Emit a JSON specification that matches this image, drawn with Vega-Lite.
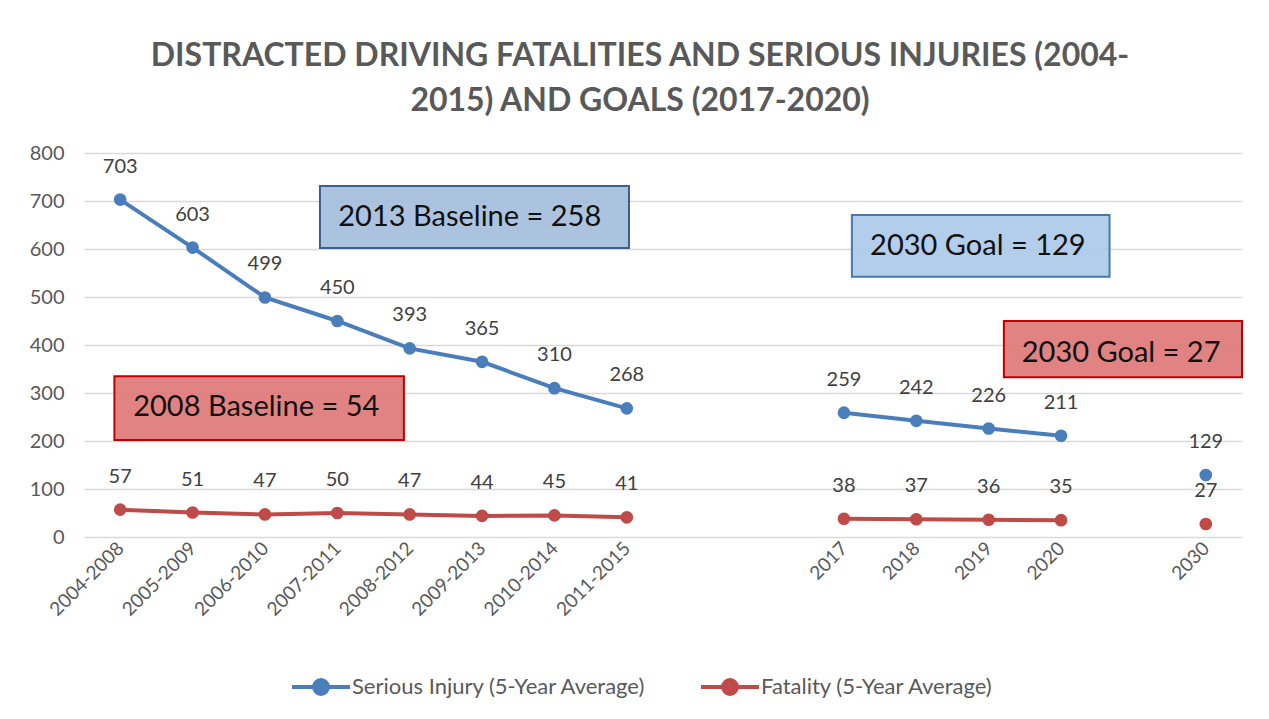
{
  "$schema": "https://vega.github.io/schema/vega-lite/v6.json",
  "autosize": {"type": "none"},
  "width": 1158,
  "height": 384,
  "padding": {"left": 84, "top": 153, "right": 27, "bottom": 182},
  "background": "white",
  "config": {
    "font": "Lato",
    "view": {"stroke": null}
  },
  "title": {
    "text": ["DISTRACTED DRIVING FATALITIES AND SERIOUS INJURIES (2004-", "2015) AND GOALS (2017-2020)"],
    "font": "Lato",
    "fontSize": 32,
    "fontWeight": "bold",
    "color": "#595959",
    "lineHeight": 45,
    "anchor": "middle",
    "dx": -23,
    "offset": 25
  },
  "datasets": {
    "boxes": [
      {"box": "2013 Baseline = 258", "x1": 2.76, "x2": 7.03, "y1": 602, "y2": 731, "tx": 4.83, "ty": 666},
      {"box": "2008 Baseline = 54", "x1": -0.08, "x2": 3.92, "y1": 202, "y2": 335, "tx": 1.88, "ty": 270},
      {"box": "2030 Goal = 129", "x1": 10.11, "x2": 13.67, "y1": 542, "y2": 671, "tx": 11.85, "ty": 606},
      {"box": "2030 Goal = 27", "x1": 12.21, "x2": 15.5, "y1": 333, "y2": 450, "tx": 13.83, "ty": 383}
    ]
  },
  "data": {
    "values": [
      {"series": "Serious Injury (5-Year Average)", "idx": 0, "cat": "2004-2008", "value": 703, "seg": "a"},
      {"series": "Serious Injury (5-Year Average)", "idx": 1, "cat": "2005-2009", "value": 603, "seg": "a"},
      {"series": "Serious Injury (5-Year Average)", "idx": 2, "cat": "2006-2010", "value": 499, "seg": "a"},
      {"series": "Serious Injury (5-Year Average)", "idx": 3, "cat": "2007-2011", "value": 450, "seg": "a"},
      {"series": "Serious Injury (5-Year Average)", "idx": 4, "cat": "2008-2012", "value": 393, "seg": "a"},
      {"series": "Serious Injury (5-Year Average)", "idx": 5, "cat": "2009-2013", "value": 365, "seg": "a"},
      {"series": "Serious Injury (5-Year Average)", "idx": 6, "cat": "2010-2014", "value": 310, "seg": "a"},
      {"series": "Serious Injury (5-Year Average)", "idx": 7, "cat": "2011-2015", "value": 268, "seg": "a"},
      {"series": "Serious Injury (5-Year Average)", "idx": 10, "cat": "2017", "value": 259, "seg": "b"},
      {"series": "Serious Injury (5-Year Average)", "idx": 11, "cat": "2018", "value": 242, "seg": "b"},
      {"series": "Serious Injury (5-Year Average)", "idx": 12, "cat": "2019", "value": 226, "seg": "b"},
      {"series": "Serious Injury (5-Year Average)", "idx": 13, "cat": "2020", "value": 211, "seg": "b"},
      {"series": "Serious Injury (5-Year Average)", "idx": 15, "cat": "2030", "value": 129, "seg": "c"},
      {"series": "Fatality (5-Year Average)", "idx": 0, "cat": "2004-2008", "value": 57, "seg": "a"},
      {"series": "Fatality (5-Year Average)", "idx": 1, "cat": "2005-2009", "value": 51, "seg": "a"},
      {"series": "Fatality (5-Year Average)", "idx": 2, "cat": "2006-2010", "value": 47, "seg": "a"},
      {"series": "Fatality (5-Year Average)", "idx": 3, "cat": "2007-2011", "value": 50, "seg": "a"},
      {"series": "Fatality (5-Year Average)", "idx": 4, "cat": "2008-2012", "value": 47, "seg": "a"},
      {"series": "Fatality (5-Year Average)", "idx": 5, "cat": "2009-2013", "value": 44, "seg": "a"},
      {"series": "Fatality (5-Year Average)", "idx": 6, "cat": "2010-2014", "value": 45, "seg": "a"},
      {"series": "Fatality (5-Year Average)", "idx": 7, "cat": "2011-2015", "value": 41, "seg": "a"},
      {"series": "Fatality (5-Year Average)", "idx": 10, "cat": "2017", "value": 38, "seg": "b"},
      {"series": "Fatality (5-Year Average)", "idx": 11, "cat": "2018", "value": 37, "seg": "b"},
      {"series": "Fatality (5-Year Average)", "idx": 12, "cat": "2019", "value": 36, "seg": "b"},
      {"series": "Fatality (5-Year Average)", "idx": 13, "cat": "2020", "value": 35, "seg": "b"},
      {"series": "Fatality (5-Year Average)", "idx": 15, "cat": "2030", "value": 27, "seg": "c"}
    ]
  },
  "encoding": {
    "x": {
      "field": "idx",
      "type": "quantitative",
      "scale": {"domain": [-0.5, 15.5], "nice": false, "zero": false},
      "axis": {
        "title": null,
        "values": [0, 1, 2, 3, 4, 5, 6, 7, 10, 11, 12, 13, 15],
        "labelExpr": "['2004-2008','2005-2009','2006-2010','2007-2011','2008-2012','2009-2013','2010-2014','2011-2015','','','2017','2018','2019','2020','','2030'][datum.value]",
        "labelAngle": -45,
        "labelAlign": "right",
        "labelBaseline": "middle",
        "labelFontSize": 19,
        "labelColor": "#595959",
        "labelPadding": 8,
        "labelOverlap": false,
        "labelBound": false,
        "labelFlush": false,
        "ticks": false,
        "domain": false,
        "grid": false
      }
    },
    "y": {
      "field": "value",
      "type": "quantitative",
      "scale": {"domain": [0, 800], "nice": false},
      "axis": {
        "title": null,
        "values": [0, 100, 200, 300, 400, 500, 600, 700, 800],
        "labelFontSize": 20,
        "labelColor": "#595959",
        "labelPadding": 20,
        "ticks": false,
        "domain": false,
        "grid": true,
        "gridColor": "#d9d9d9",
        "gridWidth": 1.5
      }
    }
  },
  "layer": [
    {
      "mark": {"type": "line", "strokeWidth": 4},
      "encoding": {
        "color": {
          "field": "series",
          "type": "nominal",
          "scale": {"domain": ["Serious Injury (5-Year Average)", "Fatality (5-Year Average)"], "range": ["#4a7ebb", "#be4b48"]},
          "legend": {
            "title": null,
            "orient": "none",
            "legendX": 206,
            "legendY": 503,
            "direction": "horizontal",
            "symbolType": "M-1,0H1M-0.24,0A0.24,0.24 0 1 0 0.24,0A0.24,0.24 0 1 0 -0.24,0",
            "symbolSize": 3364,
            "symbolStrokeWidth": 4,
            "labelFontSize": 22,
            "labelLimit": 0,
            "labelColor": "#595959",
            "labelOffset": 0,
            "columnPadding": 46,
            "encode": {"symbols": {"update": {"fill": {"scale": "color", "field": "value"}, "stroke": {"scale": "color", "field": "value"}}}}
          }
        },
        "detail": {"field": "seg"}
      }
    },
    {
      "mark": {"type": "point", "filled": true, "size": 160, "opacity": 1},
      "encoding": {
        "color": {"field": "series", "type": "nominal"}
      }
    },
    {
      "mark": {"type": "text", "dy": -33, "fontSize": 20, "color": "#404040", "baseline": "middle"},
      "encoding": {
        "text": {"field": "value", "type": "quantitative"}
      }
    },
    {
      "data": {"name": "boxes"},
      "mark": {"type": "rect", "strokeWidth": 2, "fillOpacity": 0.9},
      "encoding": {
        "x": {"field": "x1", "type": "quantitative"},
        "x2": {"field": "x2"},
        "y": {"field": "y1", "type": "quantitative"},
        "y2": {"field": "y2"},
        "fill": {
          "field": "box", "type": "nominal",
          "scale": {"domain": ["2013 Baseline = 258", "2008 Baseline = 54", "2030 Goal = 129", "2030 Goal = 27"], "range": ["#a3bcdc", "#df7676", "#abc9e8", "#df7676"]},
          "legend": null
        },
        "stroke": {
          "field": "box", "type": "nominal",
          "scale": {"domain": ["2013 Baseline = 258", "2008 Baseline = 54", "2030 Goal = 129", "2030 Goal = 27"], "range": ["#3d5f8e", "#c00000", "#4a78a8", "#c00000"]},
          "legend": null
        }
      }
    },
    {
      "data": {"name": "boxes"},
      "mark": {"type": "text", "fontSize": 29, "color": "#111111", "baseline": "middle", "align": "center"},
      "encoding": {
        "x": {"field": "tx", "type": "quantitative"},
        "y": {"field": "ty", "type": "quantitative"},
        "text": {"field": "box", "type": "nominal"}
      }
    }
  ]
}
